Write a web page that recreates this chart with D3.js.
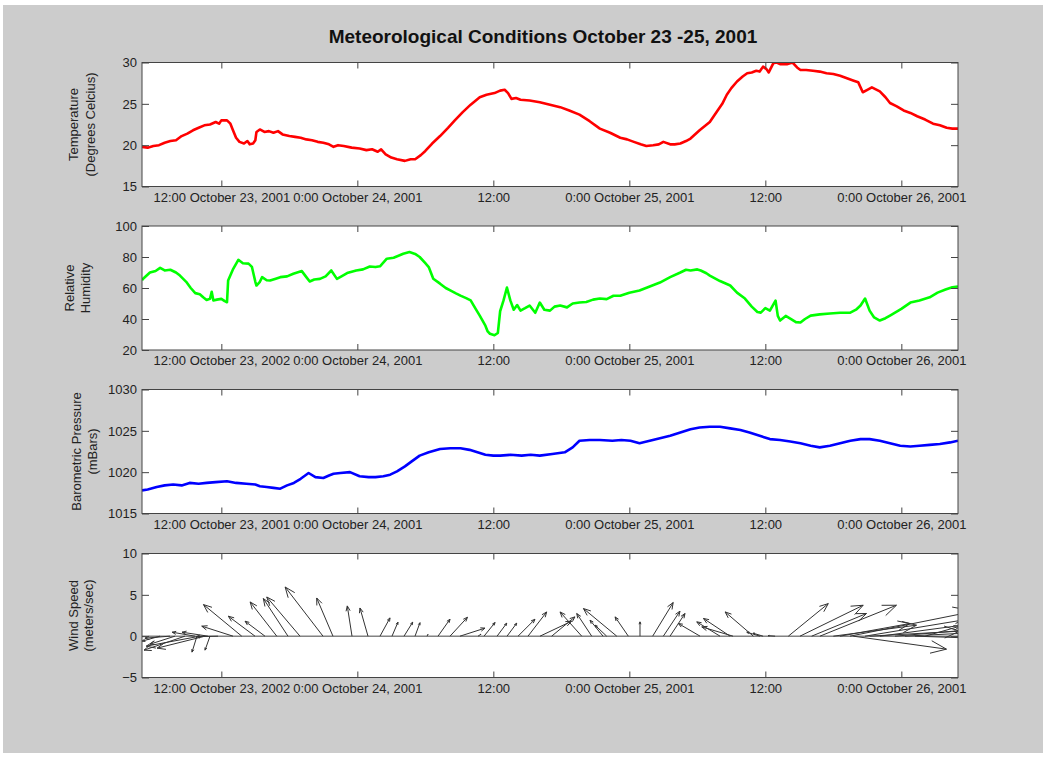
<!DOCTYPE html>
<html>
<head>
<meta charset="utf-8">
<script src="https://cdn.jsdelivr.net/npm/d3@7"></script>
<style>
  body { margin: 0; background: #fff; }
  text { font-family: "Liberation Sans", Arial, sans-serif; }
</style>
</head>
<body>
<div class="canvas"></div>
<script>
// ---- data (hours since 0:00 October 23, 2001) ----
const tickHours = [12, 24, 36, 48, 60, 72];
const tickLabels2001 = ['12:00 October 23, 2001', '0:00 October 24, 2001', '12:00', '0:00 October 25, 2001', '12:00', '0:00 October 26, 2001'];
const tickLabels2002 = ['12:00 October 23, 2002', '0:00 October 24, 2001', '12:00', '0:00 October 25, 2001', '12:00', '0:00 October 26, 2001'];

const tempHours = [5.0,5.5,6.0,6.5,7.0,7.5,8.0,8.5,9.0,9.5,10.0,10.5,11.0,11.5,11.8,12.0,12.5,12.8,13.0,13.3,13.6,14.0,14.3,14.5,14.8,15.0,15.1,15.4,15.8,16.2,16.6,17.0,17.4,18.0,18.5,19.0,19.5,20.0,20.5,21.0,21.5,21.9,22.3,22.8,23.5,24.2,24.8,25.3,25.8,26.1,26.5,27.0,27.5,28.2,28.7,29.1,29.6,30.0,30.6,31.3,32.0,32.6,33.3,34.0,34.8,35.4,36.1,36.6,37.0,37.3,37.6,38.0,38.4,39.2,40.1,41.0,41.9,42.7,43.6,44.5,45.4,46.3,47.2,47.8,48.4,49.0,49.5,50.1,50.6,51.0,51.6,52.0,52.5,53.0,53.4,54.2,55.1,55.7,56.2,56.6,57.0,57.5,58.0,58.4,58.8,59.2,59.5,59.8,60.1,60.3,60.7,61.0,61.3,61.9,62.4,62.8,63.1,63.6,64.2,64.8,65.4,66.0,66.6,67.2,67.8,68.2,68.6,69.0,69.4,70.1,70.6,71.0,71.6,72.2,72.8,73.4,74.1,74.8,75.4,76.0,76.5,77.0];
const tempValues = [19.8,19.7,19.9,20.0,20.3,20.5,20.6,21.1,21.4,21.8,22.1,22.4,22.5,22.8,22.6,23.0,23.0,22.6,21.9,20.9,20.4,20.2,20.5,20.1,20.2,20.6,21.6,21.9,21.6,21.7,21.5,21.7,21.3,21.1,21.0,20.9,20.7,20.6,20.4,20.3,20.1,19.8,20.0,19.9,19.7,19.6,19.4,19.5,19.2,19.5,18.9,18.5,18.3,18.1,18.3,18.3,18.8,19.3,20.2,21.1,22.1,23.0,24.0,24.9,25.8,26.1,26.3,26.6,26.7,26.3,25.6,25.7,25.5,25.4,25.2,24.9,24.6,24.2,23.7,22.9,22.0,21.5,20.9,20.7,20.4,20.1,19.9,20.0,20.1,20.4,20.1,20.1,20.2,20.5,20.8,21.8,22.8,24.0,25.0,26.1,26.9,27.7,28.3,28.7,28.8,29.0,28.9,29.5,29.2,28.8,29.9,30.0,29.8,29.8,30.0,29.4,29.1,29.1,29.0,28.9,28.7,28.6,28.4,28.1,27.8,27.6,26.4,26.7,27.0,26.5,25.8,25.1,24.7,24.2,23.9,23.5,23.1,22.6,22.4,22.1,22.0,22.0];

const humHours = [5.0,5.1,5.7,6.2,6.6,7.0,7.5,8.0,8.35,8.9,9.3,9.7,10.1,10.4,10.7,11.0,11.15,11.3,11.6,12.0,12.3,12.5,12.6,13.05,13.5,13.9,14.4,14.7,15.0,15.1,15.4,15.6,16.0,16.3,16.8,17.2,17.8,18.35,19.1,19.5,19.8,20.2,20.7,21.2,21.7,22.2,22.6,23.1,23.9,24.5,25.1,25.6,26.0,26.6,27.2,28.05,28.6,29.1,29.5,30.0,30.3,30.7,31.3,31.8,32.2,32.7,33.1,33.6,34.0,34.4,34.8,35.3,35.5,35.7,36.1,36.4,36.6,36.9,37.2,37.5,37.8,38.1,38.4,38.8,39.2,39.7,40.1,40.5,41.0,41.4,41.9,42.5,43.0,43.6,44.2,44.8,45.4,46.0,46.6,47.2,48.0,48.9,49.8,50.7,51.6,52.5,53.0,53.4,54.0,54.3,54.8,55.1,56.0,56.9,57.5,58.2,58.8,59.3,59.6,60.0,60.4,60.9,61.1,61.3,61.8,62.2,62.7,63.1,63.5,64.0,64.8,65.7,66.6,67.5,68.0,68.4,68.8,69.2,69.6,70.1,70.6,71.0,72.0,72.8,73.6,74.5,75.2,75.9,76.5,77.0];
const humValues = [65,66,70,71,73,71.3,71.8,70,68,64,60,56.7,56,54,52.3,53,57.6,52,52.5,53,51.5,50.8,64.8,72.4,78.2,76,75.7,73.6,64,61.6,64,67,65,64.8,66,67,67.5,69.2,70.9,67,64.2,65.5,65.9,67.5,71.3,65.9,67.5,69.6,71.3,72,73.9,73.5,74,78.9,79.5,82.1,83.2,82,80,76,73.5,66,62.8,60,58.4,56.5,55.1,53.5,52,47,42.2,35.7,32,30.5,29.5,31,45,52,60.3,52,46,49,45.4,47,48.7,44,50.6,46,45.4,48,48.7,47.5,50,50.6,51,52.5,53.2,52.8,55,55,57,58.4,61,63.5,67,70,71.8,71.3,72,71.3,69.5,68,64.5,61.6,57,53.2,48,44.5,44.1,47,45.4,51.9,42,39,42,40.3,38,37.7,40,42.2,43,43.5,44,44.1,46,48.7,53.2,45.4,41,39,40.5,42.2,46.5,50.6,52,54,57,59,60.5,61];

const presHours = [5.0,5.5,6.3,7.0,7.75,8.5,9.2,10.0,10.7,11.5,12.5,13.3,14.2,15.0,15.4,16.0,16.6,17.2,17.8,18.4,19.0,19.7,20.3,21.0,21.5,21.9,22.5,23.35,24.2,25.0,25.6,26.3,26.9,27.5,28.2,28.8,29.5,30.3,31.3,32.2,33.1,33.9,34.6,35.3,36.0,36.6,37.5,38.5,39.3,40.1,41.2,42.3,43.0,43.6,44.5,45.4,46.5,47.3,48.1,48.9,49.8,50.7,51.6,52.5,53.4,54.2,55.1,56.0,56.9,57.8,58.6,59.5,60.4,61.3,62.2,63.1,64.0,64.8,65.7,66.6,67.5,68.4,69.2,70.1,71.0,71.9,72.8,73.6,74.5,75.4,76.3,77.0];
const presValues = [1017.8,1017.9,1018.2,1018.4,1018.5,1018.4,1018.7,1018.6,1018.7,1018.8,1018.9,1018.7,1018.6,1018.5,1018.3,1018.2,1018.1,1018.0,1018.4,1018.7,1019.2,1019.9,1019.4,1019.3,1019.6,1019.8,1019.9,1020.0,1019.5,1019.4,1019.4,1019.5,1019.7,1020.1,1020.7,1021.3,1022.0,1022.4,1022.8,1022.9,1022.9,1022.7,1022.4,1022.1,1022.0,1022.0,1022.1,1022.0,1022.1,1022.0,1022.2,1022.4,1023.0,1023.8,1023.9,1023.9,1023.8,1023.9,1023.8,1023.5,1023.8,1024.1,1024.4,1024.8,1025.2,1025.4,1025.5,1025.5,1025.3,1025.1,1024.8,1024.4,1024.0,1023.9,1023.7,1023.5,1023.2,1023.0,1023.2,1023.5,1023.8,1024.0,1024.0,1023.8,1023.5,1023.2,1023.1,1023.2,1023.3,1023.4,1023.6,1023.8];

// wind vectors: start time, east (u) and north (v) components, m/s
const windHours = [6.59,7.47,7.91,8.79,10.12,10.56,9.68,10.82,9.85,11.0,11.71,13.8,13.03,14.97,15.85,16.89,17.88,18.94,20.97,21.85,23.53,24.94,26.0,27.06,28.12,29.09,30.15,31.12,32.18,33.06,34.65,35.18,36.33,37.21,38.18,39.06,40.12,41.15,43.8,44.68,46.89,45.68,46.0,47.91,48.94,50.06,51.0,51.59,54.24,56.0,56.89,57.15,58.94,59.8,59.53,60.86,62.03,63.06,64.09,64.82,66.0,66.59,67.76,67.47,68.8,70.12,71.44,72.32,69.2,73.2,74.1];
const windU = [-2.17,-3.02,-3.02,-4.95,-6.51,-5.79,-2.77,-3.14,-0.6,-0.6,-2.65,-4.63,-3.78,-3.22,-2.41,-3.22,-2.98,-4.02,-4.58,-1.97,-0.57,-0.97,1.21,0.72,1.05,0.6,0.12,1.45,2.11,3.02,0.36,1.33,1.17,1.17,2.05,2.26,3.82,2.81,-2.62,-1.81,-4.03,-1.57,-1.41,-1.6,0,2.48,2.01,1.81,-2.62,-2.81,-3.22,-3.78,-3.41,-1.21,-1.6,-0.84,4.83,7.64,6.63,9.25,10.06,8.44,11.27,15.08,13.87,12.67,11.46,9.65,10.86,7.24,4.2];
const windV = [-0.6,-0.24,-0.97,-1.69,-1.21,-1.45,0.48,0.48,-1.93,-1.69,-0.06,3.82,1.21,2.41,1.81,4.14,4.55,4.74,5.95,4.62,3.66,3.41,2.21,1.69,1.69,1.63,0.24,2.05,2.29,0.97,0.24,1.65,1.57,1.57,2.05,2.93,1.81,2.33,2.93,2.74,3.34,1.93,1.33,2.33,1.73,4.07,3.02,2.74,1.53,1.73,2.14,1.12,2.93,0.36,0.48,0.06,3.94,3.74,2.74,3.74,1.33,1.53,-1.57,3.02,2.29,1.69,0.97,0.48,0.6,-0.24,1.2];

// ---- layout ----
const W = 1045, H = 757;
const left = 142, right = 958;
const panelH = 124;
const base = new Date(2001, 9, 23, 0, 0);
const toDate = h => new Date(base.getTime() + h * 3600e3);

const svg = d3.select('.canvas').append('svg')
  .attr('width', W).attr('height', H);

svg.append('rect')
  .attr('x', 3).attr('y', 5).attr('width', 1040).attr('height', 748)
  .attr('fill', '#cccccc');

svg.append('text')
  .attr('x', 543).attr('y', 43)
  .attr('text-anchor', 'middle')
  .attr('font-size', 19).attr('font-weight', 'bold')
  .attr('fill', '#111')
  .text('Meteorological Conditions October 23 -25, 2001');

const x = d3.scaleTime()
  .domain([toDate(5), toDate(77)])
  .range([left, right]);

const panels = [
  {id: 'temp', top: 62.5, domain: [15, 30], ticks: [15, 20, 25, 30], label: ['Temperature', '(Degrees Celcius)'], labelX: [73, 90], xLabels: tickLabels2001, hours: tempHours, values: tempValues, color: '#ff0000'},
  {id: 'hum', top: 226, domain: [20, 100], ticks: [20, 40, 60, 80, 100], label: ['Relative', 'Humidity'], labelX: [69, 85], xLabels: tickLabels2002, hours: humHours, values: humValues, color: '#00ff00'},
  {id: 'pres', top: 389.5, domain: [1015, 1030], ticks: [1015, 1020, 1025, 1030], label: ['Barometric Pressure', '(mBars)'], labelX: [76, 92], xLabels: tickLabels2001, hours: presHours, values: presValues, color: '#0000ff'},
  {id: 'wind', top: 553.5, domain: [-5, 10], ticks: [-5, 0, 5, 10], label: ['Wind Speed', '(meters/sec)'], labelX: [73, 88], xLabels: tickLabels2002}
];

panels.forEach(p => {
  const y = d3.scaleLinear().domain(p.domain).range([p.top + panelH, p.top]);
  const g = svg.append('g');

  g.append('rect')
    .attr('x', left).attr('y', p.top)
    .attr('width', right - left).attr('height', panelH)
    .attr('fill', '#fff');

  svg.append('clipPath').attr('id', 'clip-' + p.id)
    .append('rect')
      .attr('x', left).attr('y', p.top)
      .attr('width', right - left).attr('height', panelH);

  const plot = g.append('g').attr('clip-path', `url(#clip-${p.id})`);

  if (p.values) {
    const line = d3.line()
      .x((d, i) => x(toDate(p.hours[i])))
      .y(d => y(d));
    plot.append('path')
      .datum(p.values)
      .attr('d', line)
      .attr('fill', 'none')
      .attr('stroke', p.color)
      .attr('stroke-width', 2.6)
      .attr('stroke-linejoin', 'round');
  } else {
    // quiver: vectors drawn with equal pixel scale in both directions
    const k = y(0) - y(1);
    plot.append('line')
      .attr('x1', left).attr('x2', right)
      .attr('y1', y(0)).attr('y2', y(0))
      .attr('stroke', '#444').attr('stroke-width', 1);
    plot.selectAll('path.arrow')
      .data(windHours.map((h, i) => ({h, u: windU[i], v: windV[i]})))
      .enter().append('path')
      .attr('class', 'arrow')
      .attr('fill', 'none')
      .attr('stroke', '#333')
      .attr('stroke-width', 1)
      .attr('d', d => {
        const x0 = x(toDate(d.h)), y0 = y(0);
        const x1 = x0 + d.u * k, y1 = y(d.v);
        const dx = x1 - x0, dy = y1 - y0;
        const len = Math.hypot(dx, dy);
        let s = `M${x0},${y0}L${x1},${y1}`;
        if (len > 1) {
          const hl = 0.18 * len, a = Math.atan2(dy, dx), w = 0.38;
          s += `M${x1 - hl * Math.cos(a - w)},${y1 - hl * Math.sin(a - w)}L${x1},${y1}`;
          s += `L${x1 - hl * Math.cos(a + w)},${y1 - hl * Math.sin(a + w)}`;
        }
        return s;
      });
  }

  // axes
  const xb = d3.axisBottom(x)
    .tickValues(tickHours.map(toDate))
    .tickSizeInner(-6).tickSizeOuter(0).tickPadding(6)
    .tickFormat((d, i) => p.xLabels[i]);
  const xt = d3.axisTop(x)
    .tickValues(tickHours.map(toDate))
    .tickSizeInner(-6).tickSizeOuter(0).tickFormat('');
  const yl = d3.axisLeft(y)
    .tickValues(p.ticks)
    .tickSizeInner(-7).tickSizeOuter(0).tickPadding(5)
    .tickFormat(d3.format('d'));
  const yr = d3.axisRight(y)
    .tickValues(p.ticks)
    .tickSizeInner(-7).tickSizeOuter(0).tickFormat('');

  g.append('g').attr('transform', `translate(0,${p.top + panelH})`).call(xb);
  g.append('g').attr('transform', `translate(0,${p.top})`).call(xt);
  g.append('g').attr('transform', `translate(${left},0)`).call(yl);
  g.append('g').attr('transform', `translate(${right},0)`).call(yr);

  g.selectAll('.domain').remove();
  g.selectAll('.tick line').attr('stroke', '#444');
  g.selectAll('.tick text')
    .attr('font-family', '"Liberation Sans", Arial, sans-serif')
    .attr('font-size', 13)
    .attr('fill', '#222');

  g.append('rect')
    .attr('x', left).attr('y', p.top)
    .attr('width', right - left).attr('height', panelH)
    .attr('fill', 'none').attr('stroke', '#444').attr('stroke-width', 1);

  // y label (two lines, rotated)
  const cy = p.top + panelH / 2;
  p.label.forEach((t, i) => {
    g.append('text')
      .attr('transform', `translate(${p.labelX[i]},${cy}) rotate(-90)`)
      .attr('text-anchor', 'middle')
      .attr('dy', '0.35em')
      .attr('font-size', 13)
      .attr('fill', '#222')
      .text(t);
  });
});
</script>
</body>
</html>
